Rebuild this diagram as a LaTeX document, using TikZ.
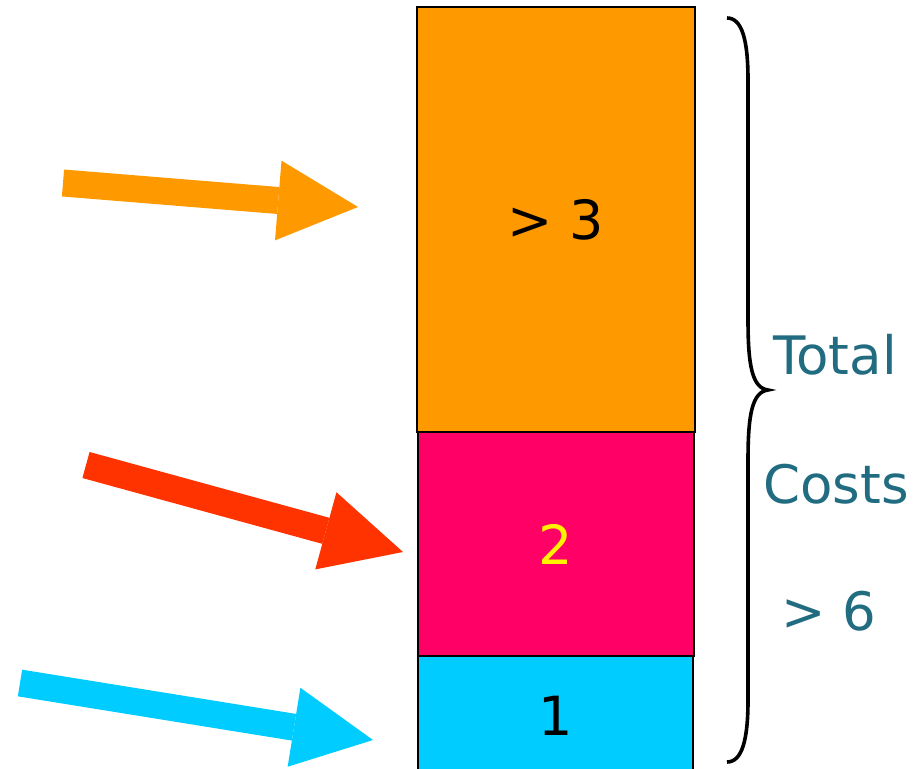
\documentclass[tikz,border=0pt]{standalone}
\usepackage{fontspec}
\setmainfont{DejaVu Sans}
\usetikzlibrary{arrows.meta}
\definecolor{orangeC}{RGB}{255,153,0}
\definecolor{pinkC}{RGB}{255,0,102}
\definecolor{cyanC}{RGB}{0,204,255}
\definecolor{redC}{RGB}{255,51,0}
\definecolor{tealC}{RGB}{33,108,128}
\tikzset{
	costbox/.style={draw=black,line width=0.75pt,inner sep=0pt,font=\fontsize{27}{32}\selectfont},
	bigarrow/.style={line width=13.5pt,-{Triangle[length=40pt,width=40pt,line width=0pt]}},
	sumtext/.style={text=tealC,inner sep=0pt,font=\fontsize{26.5}{32}\selectfont}
}
\begin{document}
\begin{tikzpicture}[x=0.5pt,y=-0.5pt]
	\useasboundingbox (0,0) rectangle (924,769);

	\node[costbox,fill=orangeC,minimum width=139pt,minimum height=212.5pt] (drei) at (556,219.5) {> 3};%oberer Block
	\node[costbox,fill=pinkC,text=yellow,minimum width=138pt,minimum height=112pt] (zwei) at (556,544) {2};%mittlerer Block
	\node[costbox,fill=cyanC,minimum width=137.5pt,minimum height=60pt] (eins) at (555.5,716) {1};%unterer Block

	\coordinate (a1) at (63,183);
	\coordinate (a2) at (86,465);
	\coordinate (a3) at (20,683);
	\draw[bigarrow,orangeC] (a1) -- (358,207);
	\draw[bigarrow,redC] (a2) -- (403,552);
	\draw[bigarrow,cyanC] (a3) -- (373,740);

	\draw[line width=1.8pt] (727,18) .. controls (742,18) and (748,40) .. (748,80) -- (748,320)
		.. controls (748,365) and (752,388) .. (768,390)
		.. controls (752,392) and (748,415) .. (748,460) -- (748,700)
		.. controls (748,740) and (742,762) .. (727,762);%Klammer

	\node[sumtext] (total) at (835,355) {Total};
	\node[sumtext] (costs) at (836,484) {Costs};
	\node[sumtext] (gesamt) at (829,611) {> 6};

\end{tikzpicture}
\end{document}
